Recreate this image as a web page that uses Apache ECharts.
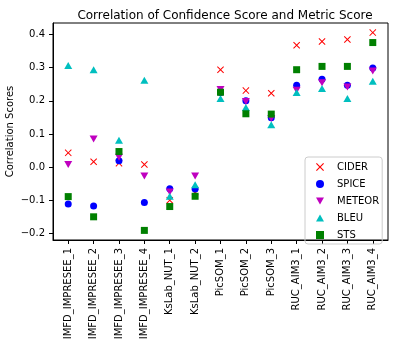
<!DOCTYPE html>
<html>
<head>
<meta charset="utf-8">
<script src="https://cdn.jsdelivr.net/npm/echarts@6/dist/echarts.min.js"></script>
<style>
  html, body { margin: 0; padding: 0; background: #fff; }
  #main { width: 394px; height: 345px; }
</style>
</head>
<body>
<div id="main"></div>
<script>
var myChart = echarts.init(document.getElementById('main'));

var runs = ['IMFD_IMPRESEE_1', 'IMFD_IMPRESEE_2', 'IMFD_IMPRESEE_3', 'IMFD_IMPRESEE_4',
            'KsLab_NUT_1', 'KsLab_NUT_2', 'PicSOM_1', 'PicSOM_2', 'PicSOM_3',
            'RUC_AIM3_1', 'RUC_AIM3_2', 'RUC_AIM3_3', 'RUC_AIM3_4'];

var cider  = [0.043, 0.016, 0.012, 0.008, -0.100, -0.075, 0.294, 0.231, 0.223, 0.368, 0.379, 0.385, 0.406];
var spice  = [-0.111, -0.117, 0.019, -0.107, -0.065, -0.066, 0.225, 0.200, 0.149, 0.247, 0.265, 0.247, 0.299];
var meteor = [0.008, 0.085, 0.030, -0.027, -0.075, -0.027, 0.234, 0.198, 0.147, 0.232, 0.255, 0.242, 0.290];
var bleu   = [0.307, 0.294, 0.081, 0.262, -0.088, -0.053, 0.207, 0.180, 0.128, 0.225, 0.237, 0.207, 0.259];
var sts    = [-0.089, -0.150, 0.047, -0.191, -0.119, -0.088, 0.226, 0.161, 0.160, 0.294, 0.304, 0.304, 0.376];

var yTicks = [-0.2, -0.1, 0.0, 0.1, 0.2, 0.3, 0.4];
var xTicks = runs.map(function (r, i) { return i; });

function pts(arr) {
  return arr.map(function (v, i) { return [i, v]; });
}

var xMark = 'path://M0,1 L1,0 L5,4 L9,0 L10,1 L6,5 L10,9 L9,10 L5,6 L1,10 L0,9 L4,5 Z';
var downTri = 'path://M0,0 L10,0 L5,9 Z';
var upTri = 'path://M5,0 L10,9 L0,9 Z';
var font = 'DejaVu Sans';

var option = {
  animation: false,
  title: {
    text: 'Correlation of Confidence Score and Metric Score',
    left: 220,
    textAlign: 'center',
    top: 5,
    textStyle: { fontFamily: font, fontSize: 12, fontWeight: 'normal', color: '#000' }
  },
  legend: {
    orient: 'vertical',
    left: 305,
    top: 157,
    padding: [5, 3, 4, 11],
    itemGap: 7,
    itemWidth: 8,
    itemHeight: 8,
    borderColor: '#ccc',
    borderWidth: 1,
    borderRadius: 3,
    textStyle: { fontFamily: font, fontSize: 10, color: '#000', padding: [0, 0, 0, 8] },
    data: [
      { name: 'CIDER', icon: xMark },
      { name: 'SPICE', icon: 'circle' },
      { name: 'METEOR', icon: downTri },
      { name: 'BLEU', icon: upTri },
      { name: 'STS', icon: 'rect' }
    ]
  },
  grid: {
    left: 53, right: 6, top: 23, bottom: 105,
    outerBoundsMode: 'none',
    show: true, borderColor: '#000', borderWidth: 1
  },
  xAxis: {
    type: 'value',
    min: -0.6,
    max: 12.6,
    splitLine: { show: false },
    axisLine: { show: true, onZero: false, lineStyle: { color: '#000' } },
    axisTick: { show: true, length: 4, customValues: xTicks, lineStyle: { color: '#000' } },
    axisLabel: {
      customValues: xTicks,
      rotate: 90,
      margin: 8,
      fontFamily: font,
      fontSize: 10,
      color: '#000',
      formatter: function (v) { return runs[Math.round(v)]; }
    }
  },
  yAxis: {
    type: 'value',
    min: -0.22,
    max: 0.435,
    name: 'Correlation Scores',
    nameLocation: 'middle',
    nameMoveOverlap: false,
    nameGap: 38,
    nameTextStyle: { fontFamily: font, fontSize: 10, color: '#000' },
    splitLine: { show: false },
    axisLine: { show: true, onZero: false, lineStyle: { color: '#000' } },
    axisTick: { show: true, length: 4, customValues: yTicks, lineStyle: { color: '#000' } },
    axisLabel: {
      customValues: yTicks,
      margin: 8,
      fontFamily: font,
      fontSize: 10,
      color: '#000',
      formatter: function (v) { return v.toFixed(1).replace('-', '\u2212'); }
    }
  },
  series: [
    { name: 'CIDER', type: 'scatter', symbol: xMark, symbolSize: 7,
      itemStyle: { color: '#ff0000', opacity: 1 }, data: pts(cider) },
    { name: 'SPICE', type: 'scatter', symbol: 'circle', symbolSize: 7,
      itemStyle: { color: '#0000ff', opacity: 1 }, data: pts(spice) },
    { name: 'METEOR', type: 'scatter', symbol: downTri, symbolSize: [8, 7],
      itemStyle: { color: '#bf00bf', opacity: 1 }, data: pts(meteor) },
    { name: 'BLEU', type: 'scatter', symbol: upTri, symbolSize: [8, 7],
      itemStyle: { color: '#00bfbf', opacity: 1 }, data: pts(bleu) },
    { name: 'STS', type: 'scatter', symbol: 'rect', symbolSize: 7,
      itemStyle: { color: '#008000', opacity: 1 }, data: pts(sts) }
  ]
};

myChart.setOption(option);
</script>
</body>
</html>
